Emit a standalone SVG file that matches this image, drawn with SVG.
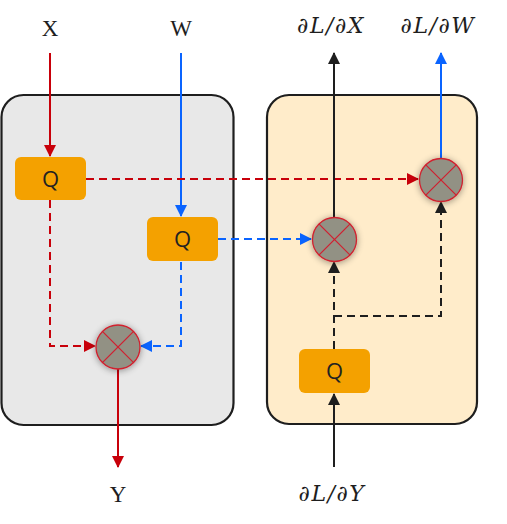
<svg xmlns="http://www.w3.org/2000/svg" width="507" height="524" viewBox="0 0 507 524">
<style>
.box{stroke:#1e1e1e;stroke-width:2.2}
.q rect{fill:#f4a100}
.q text{font-family:"Open Sans","DejaVu Sans",sans-serif;font-size:22px;fill:#222;text-anchor:middle}
.mul circle{fill:#929184;stroke:#d0202e;stroke-width:1.3}
.mul line{stroke:#d0202e;stroke-width:1.2}
.lbl{font-family:"Liberation Serif","Times New Roman",serif;font-size:23px;fill:#1e1e1e;text-anchor:middle}
.math{font-family:"DejaVu Serif","Liberation Serif",serif;font-style:italic;font-size:22px;letter-spacing:1.5px;fill:#1e1e1e;text-anchor:middle}
.c{fill:none;stroke-width:2}
.red{stroke:#c8000a}
.blue{stroke:#0a64ff}
.blk{stroke:#1e1e1e}
.d{stroke-dasharray:8,5}
</style>
<defs>
<marker id="ar" viewBox="0 0 12 12" refX="11" refY="6" markerWidth="12" markerHeight="12" markerUnits="userSpaceOnUse" orient="auto"><path d="M0,0 L12,6 L0,12 z" fill="#c8000a"/></marker>
<marker id="ab" viewBox="0 0 12 12" refX="11" refY="6" markerWidth="12" markerHeight="12" markerUnits="userSpaceOnUse" orient="auto"><path d="M0,0 L12,6 L0,12 z" fill="#0a64ff"/></marker>
<marker id="ak" viewBox="0 0 12 12" refX="11" refY="6" markerWidth="12" markerHeight="12" markerUnits="userSpaceOnUse" orient="auto"><path d="M0,0 L12,6 L0,12 z" fill="#1e1e1e"/></marker>
<filter id="glow" x="-50%" y="-50%" width="200%" height="200%"><feGaussianBlur in="SourceAlpha" stdDeviation="3.5"/><feOffset dx="0" dy="1"/><feComponentTransfer><feFuncA type="linear" slope="0.4"/></feComponentTransfer><feMerge><feMergeNode/><feMergeNode in="SourceGraphic"/></feMerge></filter>
</defs>
<rect width="507" height="524" fill="#fff"/>
<g id="fwd-panel"><rect class="box" x="1.5" y="95" width="232" height="330" rx="22" fill="#e8e8e8"/></g>
<g id="bwd-panel"><rect class="box" x="267" y="95" width="210" height="329" rx="22" fill="#ffecca"/></g>

<g id="connectors">
<path class="c red" d="M50,53 V156" marker-end="url(#ar)"/>
<path class="c blue" d="M181,53 V216" marker-end="url(#ab)"/>
<path class="c red d" d="M86,179 H418" marker-end="url(#ar)"/>
<path class="c red d" d="M50,200 V346 H95" marker-end="url(#ar)"/>
<path class="c blue d" d="M181,262 V346 H141" marker-end="url(#ab)"/>
<path class="c blue d" d="M218,239 H311" marker-end="url(#ab)"/>
<path class="c red" d="M118,369 V467" marker-end="url(#ar)"/>
<path class="c blk" d="M334,217 V53" marker-end="url(#ak)"/>
<path class="c blue" d="M441,158 V53" marker-end="url(#ab)"/>
<path class="c blk" d="M334,467 V394" marker-end="url(#ak)"/>
<path class="c blk d" d="M334,349 V262" marker-end="url(#ak)"/>
<path class="c blk d" d="M334,316 H441 V202" marker-end="url(#ak)"/>
</g>

<g id="qx" class="q"><rect x="15" y="157" width="71" height="43" rx="6"/><text x="50.5" y="186.5">Q</text></g>
<g id="qw" class="q"><rect x="147" y="217" width="71" height="44" rx="6"/><text x="182.5" y="246.5">Q</text></g>
<g id="qg" class="q"><rect x="299" y="349" width="71" height="44" rx="6"/><text x="334.5" y="378.5">Q</text></g>

<g id="mul-y" class="mul" filter="url(#glow)"><circle cx="118" cy="347" r="22"/><line x1="102.4" y1="331.4" x2="133.6" y2="362.6"/><line x1="133.6" y1="331.4" x2="102.4" y2="362.6"/></g>
<g id="mul-dx" class="mul" filter="url(#glow)"><circle cx="334.5" cy="239.5" r="22"/><line x1="318.9" y1="223.9" x2="350.1" y2="255.1"/><line x1="350.1" y1="223.9" x2="318.9" y2="255.1"/></g>
<g id="mul-dw" class="mul" filter="url(#glow)"><circle cx="441" cy="180" r="21.5"/><line x1="425.8" y1="164.8" x2="456.2" y2="195.2"/><line x1="456.2" y1="164.8" x2="425.8" y2="195.2"/></g>

<g id="lbl-x"><text class="lbl" x="50" y="36">X</text></g>
<g id="lbl-w"><text class="lbl" x="181" y="36">W</text></g>
<g id="lbl-y"><text class="lbl" x="118" y="502">Y</text></g>
<g id="lbl-dx"><text class="math" x="331" y="33">∂L/∂X</text></g>
<g id="lbl-dw"><text class="math" x="438" y="33">∂L/∂W</text></g>
<g id="lbl-dy"><text class="math" x="332" y="501">∂L/∂Y</text></g>
</svg>
